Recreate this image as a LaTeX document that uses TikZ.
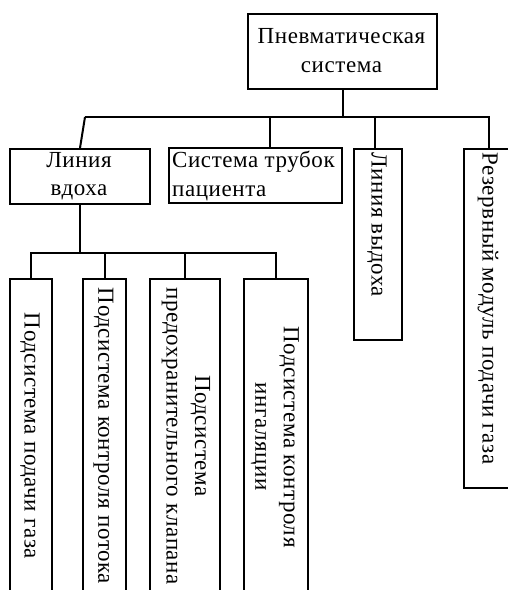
\documentclass[tikz,border=0pt]{standalone}
\usepackage{fontspec}
\setmainfont[LetterSpace=2.5]{Liberation Serif}
\begin{document}
\begin{tikzpicture}[x=1pt,y=-1pt,
  box/.style={draw, line width=2pt, inner sep=0pt, anchor=north west},
  lbl/.style={font=\fontsize{23}{28.5}\selectfont, inner sep=0pt, align=center},
  conn/.style={line width=2pt}]
\clip (0,0) rectangle (508,590);
% boxes
\node[box, minimum width=189pt, minimum height=75pt] (top) at (247,13) {};
\node[box, minimum width=140pt, minimum height=55pt] (vdoh) at (9,148) {};
\node[box, minimum width=173pt, minimum height=55pt] (trub) at (168,147) {};
\node[box, minimum width=48pt, minimum height=191pt] (vyd) at (353,148) {};
\node[box, minimum width=50pt, minimum height=339pt] (rez) at (463,148) {};
\node[box, minimum width=42pt, minimum height=316pt] (s1) at (9,278) {};
\node[box, minimum width=43pt, minimum height=316pt] (s2) at (82,278) {};
\node[box, minimum width=70pt, minimum height=316pt] (s3) at (149,278) {};
\node[box, minimum width=64pt, minimum height=316pt] (s4) at (243,278) {};
% labels
\node[lbl] (ttop) at (341.5,50.5) {Пневматическая\\система};
\node[lbl] (tvdoh) at (79,176) {Линия\\вдоха};
\node[lbl, align=left, anchor=west] (ttrub) at (172,176) {Система трубок\\пациента};
\node[lbl, rotate=-90, anchor=west] (tvyd) at (377,152) {Линия выдоха};
\node[lbl, rotate=-90, anchor=west] (trez) at (488,152) {Резервный модуль подачи газа};
\node[lbl, rotate=-90] (ts1) at (30,436) {Подсистема подачи газа};
\node[lbl, rotate=-90] (ts2) at (103.5,436) {Подсистема контроля потока};
\node[lbl, rotate=-90] (ts3) at (186,436) {Подсистема\\предохранительного клапана};
\node[lbl, rotate=-90] (ts4) at (275,437) {Подсистема контроля\\ингаляции};
% connectors
\coordinate (busL) at (85,117);
\coordinate (bT) at (270,117);
\coordinate (bV) at (375,117);
\coordinate (bus2) at (0,253);
\draw[conn] (busL) -- (rez.north |- busL) -- (rez.north);
\draw[conn] (top.south) -- (top.south |- busL);
\draw[conn] (busL) -- (vdoh.north);
\draw[conn] (bT) -- (bT |- trub.north);
\draw[conn] (bV) -- (bV |- vyd.north);
\draw[conn] (vdoh.south) -- (vdoh.south |- bus2);
\draw[conn] (s1.north) -- (s1.north |- bus2) -- (s4.north |- bus2) -- (s4.north);
\draw[conn] (s2.north) -- (s2.north |- bus2);
\draw[conn] (s3.north) -- (s3.north |- bus2);
\end{tikzpicture}
\end{document}
